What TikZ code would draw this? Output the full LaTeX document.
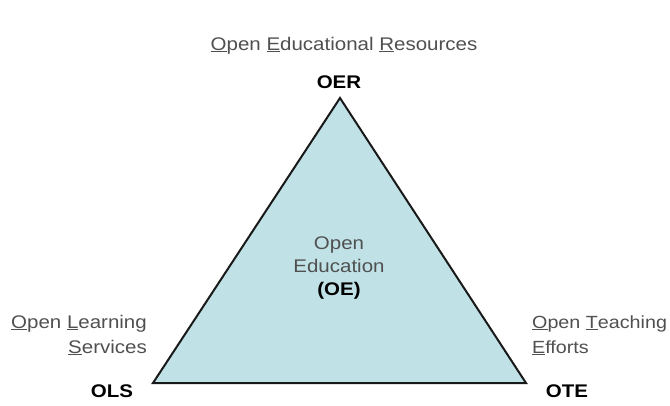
\documentclass[tikz,border=0pt]{standalone}
\usepackage{fontspec}
\setmainfont{Liberation Sans}[FakeStretch=1.12]
\definecolor{oefill}{RGB}{192,226,231}
\definecolor{lblgray}{RGB}{80,80,80}
\definecolor{edgecol}{RGB}{25,25,25}
\newcommand{\ulx}[1]{\underline{#1}}
\begin{document}
\begin{tikzpicture}[x=1pt,y=-1pt,
  lbl/.style={inner sep=0pt,anchor=base,text=lblgray,font=\fontsize{18.3}{22}\selectfont},
  abbr/.style={inner sep=0pt,anchor=base,text=black,font=\fontsize{18.3}{22}\selectfont\bfseries},
  tri/.style={draw=edgecol,fill=oefill,line width=2pt,line join=miter}]
\useasboundingbox (0,0) rectangle (670,405);
\fill[white] (0,0) rectangle (670,405);
\coordinate (top) at (340,98);
\coordinate (bl) at (153,383);
\coordinate (br) at (526,383);
\draw[tri] (top) -- (bl) -- (br) -- cycle;
\node[lbl] (oer-t) at (344,50) {\ulx{O}pen \ulx{E}ducational \ulx{R}esources};
\node[abbr] (oer) at (339,88) {OER};
\node[lbl] (oe1) at (339,249) {Open};
\node[lbl] (oe2) at (339,272) {Education};
\node[abbr] (oe3) at (339,295) {(OE)};
\node[lbl,anchor=base east] (ols-t1) at (147,328) {\ulx{O}pen \ulx{L}earning};
\node[lbl,anchor=base east] (ols-t2) at (147,353) {\ulx{S}ervices};
\node[abbr] (ols) at (112,397) {OLS};
\node[lbl,anchor=base west,font=\fontsize{17.6}{22}\selectfont] (ote-t1) at (532,328) {\ulx{O}pen \ulx{T}eaching};
\node[lbl,anchor=base west,font=\fontsize{17.6}{22}\selectfont] (ote-t2) at (532,353) {\ulx{E}fforts};
\node[abbr] (ote) at (567,397) {OTE};
\end{tikzpicture}
\end{document}
